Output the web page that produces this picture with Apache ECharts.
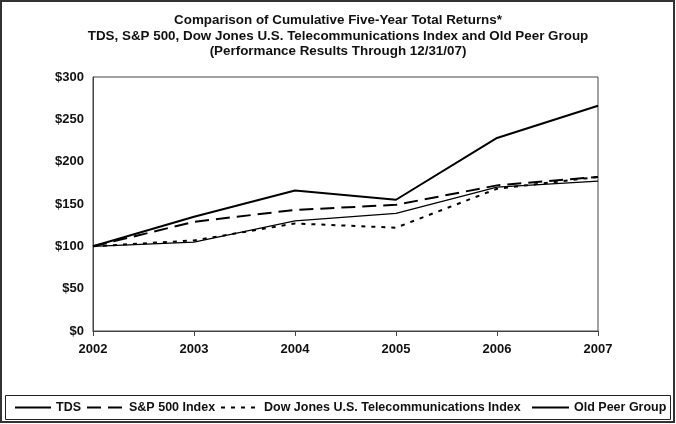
<!DOCTYPE html>
<html><head><meta charset="utf-8">
<script src="https://cdn.jsdelivr.net/npm/echarts@6/dist/echarts.min.js"></script>
<style>html,body{margin:0;padding:0;background:#fff}#c{width:676px;height:424px}</style>
</head><body><div id="c"></div>
<script>
const years = ['2002','2003','2004','2005','2006','2007'];
const tds = [100, 135, 166, 155, 228, 266];
const sp500 = [100, 129, 143, 149, 172, 182];
const dowJones = [100, 107, 127, 122, 168, 182];
const oldPeer = [100, 105, 130, 139, 170, 177];
const yTicks = [0, 50, 100, 150, 200, 250, 300];
const seriesNames = ['TDS', 'S&P 500 Index', 'Dow Jones U.S. Telecommunications Index', 'Old Peer Group'];

const FONT = '"Liberation Sans", Arial, sans-serif';
const chart = echarts.init(document.getElementById('c'), null, {renderer: 'canvas'});
const legendLeft = [14, 86, 220, 531];
const legendIconW = [36, 37, 38, 37];
const lineStyles = [
  {color: '#000', width: 2, type: 'solid'},
  {color: '#000', width: 2, type: [14, 7]},
  {color: '#000', width: 2, type: [4, 6]},
  {color: '#000', width: 1.2, type: 'solid'}
];
const dataArr = [tds, sp500, dowJones, oldPeer];
chart.setOption({
  animation: false,
  backgroundColor: '#fff',
  title: {
    text: 'Comparison of Cumulative Five-Year Total Returns*\nTDS, S&P 500, Dow Jones U.S. Telecommunications Index and Old Peer Group\n(Performance Results Through 12/31/07)',
    left: 'center', top: 8,
    textStyle: {fontFamily: FONT, fontWeight: 'bold', fontSize: 13.4, lineHeight: 15.5, color: '#111', align: 'center'}
  },
  legend: seriesNames.map((n, i) => ({
    data: [n], left: legendLeft[i], top: 401, itemWidth: legendIconW[i], itemHeight: 12, itemGap: 0,
    itemStyle: {opacity: 0}, padding: 0,
    textStyle: {fontFamily: FONT, fontWeight: 'bold', fontSize: 12.5, color: '#111'},
    selectedMode: false
  })),
  grid: {left: 93, right: 78, top: 77, bottom: 93, show: true, borderColor: '#444', borderWidth: 1},
  xAxis: {
    type: 'category', data: years, boundaryGap: false,
    axisLine: {lineStyle: {color: '#444', width: 1}},
    axisTick: {show: true, length: 5, lineStyle: {color: '#444'}},
    axisLabel: {fontFamily: FONT, fontWeight: 'bold', fontSize: 13, color: '#111', margin: 12}
  },
  yAxis: {
    type: 'value', min: 0, max: 300, interval: 50,
    axisLine: {show: true, lineStyle: {color: '#444'}},
    axisTick: {show: false},
    splitLine: {show: false},
    axisLabel: {fontFamily: FONT, fontWeight: 'bold', fontSize: 13, color: '#111', margin: 9,
      formatter: v => yTicks.includes(v) ? '$' + v : ''}
  },
  series: seriesNames.map((n, i) => ({
    name: n, type: 'line', data: dataArr[i], symbol: 'none', lineStyle: lineStyles[i],
    itemStyle: {color: '#000'}, z: 4 - i
  })),
  graphic: [
    {type: 'rect', shape: {x: 1, y: 1, width: 673, height: 421}, style: {fill: 'none', stroke: '#333', lineWidth: 2}, silent: true},
    {type: 'rect', shape: {x: 5.5, y: 395.5, width: 665, height: 24}, style: {fill: 'none', stroke: '#222', lineWidth: 1}, silent: true}
  ]
});
</script></body></html>
